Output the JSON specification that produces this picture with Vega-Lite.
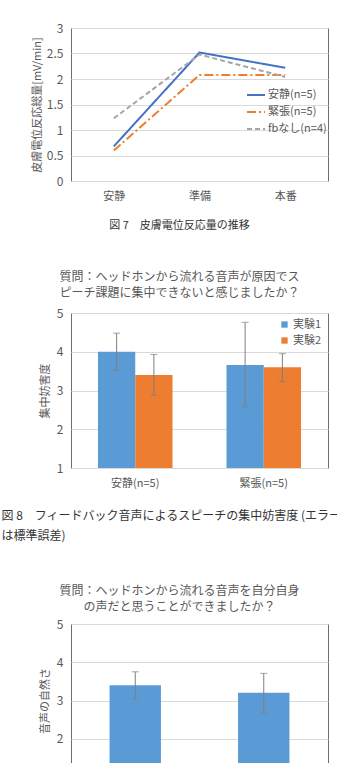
{
  "$schema": "https://vega.github.io/schema/vega-lite/v6.json",
  "padding": {"top": 21, "left": 0, "right": 0, "bottom": 0},
  "config": {
    "font": "Noto Sans CJK JP",
    "view": {"stroke": "#6e6e6e", "strokeWidth": 1},
    "axis": {
      "labelColor": "#595959",
      "titleColor": "#595959",
      "gridColor": "#d9d9d9",
      "domain": false,
      "ticks": false,
      "labelPadding": 8,
      "labelFontSize": 12,
      "titleFontSize": 11,
      "titleFontWeight": "normal",
      "titlePadding": 5
    },
    "legend": {"labelColor": "#595959", "labelFontSize": 11},
    "title": {"fontWeight": "normal", "fontSize": 12, "color": "#595959", "lineHeight": 16}
  },
  "resolve": {
    "scale": {"color": "independent", "strokeDash": "independent", "x": "independent", "y": "independent", "xOffset": "independent"},
    "legend": {"color": "independent", "strokeDash": "independent"}
  },
  "spacing": 42,
  "vconcat": [
    {
      "spacing": 39,
      "resolve": {
        "scale": {"color": "independent", "strokeDash": "independent", "x": "independent", "y": "independent", "xOffset": "independent"},
        "legend": {"color": "independent", "strokeDash": "independent"}
      },
      "vconcat": [
        {
          "width": 257,
          "height": 153,
          "data": {"values": [
            {"phase": "安静", "cond": "安静(n=5)", "v": 0.68},
            {"phase": "準備", "cond": "安静(n=5)", "v": 2.52},
            {"phase": "本番", "cond": "安静(n=5)", "v": 2.22},
            {"phase": "安静", "cond": "緊張(n=5)", "v": 0.60},
            {"phase": "準備", "cond": "緊張(n=5)", "v": 2.08},
            {"phase": "本番", "cond": "緊張(n=5)", "v": 2.08},
            {"phase": "安静", "cond": "fbなし(n=4)", "v": 1.23},
            {"phase": "準備", "cond": "fbなし(n=4)", "v": 2.48},
            {"phase": "本番", "cond": "fbなし(n=4)", "v": 2.04}
          ]},
          "mark": {"type": "line", "strokeWidth": 2},
          "encoding": {
            "x": {
              "field": "phase", "type": "ordinal", "sort": ["安静", "準備", "本番"],
              "scale": {"type": "point", "padding": 0.5},
              "axis": {
                "labelAngle": 0, "grid": false, "labelFontSize": 11, "labelPadding": 9,
                "title": "図 7　皮膚電位反応量の推移",
                "titleFontSize": 11, "titleColor": "#333333",
                "titleX": 108, "titleY": 38, "titleAlign": "center", "titleBaseline": "top", "titleAnchor": null
              }
            },
            "y": {
              "field": "v", "type": "quantitative",
              "scale": {"domain": [0, 3]},
              "axis": {"values": [0, 0.5, 1, 1.5, 2, 2.5, 3], "labelExpr": "datum.value + ''", "title": "皮膚電位反応総量[mV/min]", "titlePadding": 4}
            },
            "color": {
              "field": "cond", "type": "nominal",
              "scale": {"domain": ["安静(n=5)", "緊張(n=5)", "fbなし(n=4)"], "range": ["#4472C4", "#ED7D31", "#A5A5A5"]},
              "legend": {"title": null, "orient": "none", "legendX": 175, "legendY": 57, "symbolType": "stroke", "symbolSize": 324, "symbolStrokeWidth": 2, "labelOffset": 2, "rowPadding": 2}
            },
            "strokeDash": {
              "field": "cond", "type": "nominal",
              "scale": {"domain": ["安静(n=5)", "緊張(n=5)", "fbなし(n=4)"], "range": [[1, 0], [9, 3, 2, 3], [5, 3]]},
              "legend": {"title": null, "orient": "none", "legendX": 175, "legendY": 57, "symbolType": "stroke", "symbolSize": 324, "symbolStrokeWidth": 2, "labelOffset": 2, "rowPadding": 2}
            },
            "order": {"value": null}
          }
        },
        {
          "width": 257,
          "height": 155,
          "title": {"text": ["質問：ヘッドホンから流れる音声が原因でス", "ピーチ課題に集中できないと感じましたか？"], "dx": -20, "offset": 7},
          "data": {"values": [
            {"group": "安静(n=5)", "exp": "実験1", "v": 4.0, "lo": 3.53, "hi": 4.48},
            {"group": "安静(n=5)", "exp": "実験2", "v": 3.4, "lo": 2.88, "hi": 3.93},
            {"group": "緊張(n=5)", "exp": "実験1", "v": 3.66, "lo": 2.58, "hi": 4.76},
            {"group": "緊張(n=5)", "exp": "実験2", "v": 3.6, "lo": 3.23, "hi": 3.95}
          ]},
          "encoding": {
            "x": {
              "field": "group", "type": "nominal",
              "scale": {"paddingInner": 0.42, "paddingOuter": 0.21},
              "axis": {
                "labelAngle": 0, "grid": false, "labelFontSize": 11, "labelPadding": 9,
                "title": ["図 8　フィードバック音声によるスピーチの集中妨害度 (エラーバー", "　　　は標準誤差)"],
                "titleFontSize": 12, "titleColor": "#333333", "titleLineHeight": 20,
                "titleX": -70, "titleY": 42, "titleAlign": "left", "titleBaseline": "top", "titleAnchor": null
              }
            },
            "xOffset": {"field": "exp", "type": "nominal", "scale": {"paddingInner": 0, "paddingOuter": 0}}
          },
          "layer": [
            {
              "mark": {"type": "bar"},
              "encoding": {
                "y": {
                  "field": "v", "type": "quantitative",
                  "scale": {"domain": [1, 5]},
                  "axis": {"values": [1, 2, 3, 4, 5], "labelOverlap": false, "title": "集中妨害度", "titlePadding": 6}
                },
                "y2": {"datum": 1},
                "color": {
                  "field": "exp", "type": "nominal",
                  "scale": {"domain": ["実験1", "実験2"], "range": ["#5B9BD5", "#ED7D31"]},
                  "legend": {"title": null, "orient": "none", "legendX": 208, "legendY": 6, "symbolType": "square", "symbolSize": 40, "rowPadding": 4, "labelOffset": 3}
                }
              }
            },
            {
              "mark": {"type": "rule", "color": "#7f7f7f", "strokeWidth": 1},
              "encoding": {
                "y": {"field": "lo", "type": "quantitative", "axis": {"values": [1, 2, 3, 4, 5], "labelOverlap": false, "title": "集中妨害度", "titlePadding": 6}},
                "y2": {"field": "hi"}
              }
            },
            {
              "mark": {"type": "tick", "color": "#7f7f7f", "size": 7, "thickness": 1},
              "encoding": {"y": {"field": "lo", "type": "quantitative", "axis": {"values": [1, 2, 3, 4, 5], "labelOverlap": false, "title": "集中妨害度", "titlePadding": 6}}}
            },
            {
              "mark": {"type": "tick", "color": "#7f7f7f", "size": 7, "thickness": 1},
              "encoding": {"y": {"field": "hi", "type": "quantitative", "axis": {"values": [1, 2, 3, 4, 5], "labelOverlap": false, "title": "集中妨害度", "titlePadding": 6}}}
            }
          ]
        }
      ]
    },
    {
      "width": 257,
      "height": 153,
      "title": {"text": ["質問：ヘッドホンから流れる音声を自分自身", "の声だと思うことができましたか？"], "dx": -20, "offset": 4},
      "data": {"values": [
        {"group": "安静(n=5)", "v": 3.4, "lo": 3.04, "hi": 3.75},
        {"group": "緊張(n=5)", "v": 3.2, "lo": 2.66, "hi": 3.71}
      ]},
      "encoding": {
        "x": {
          "field": "group", "type": "nominal",
          "scale": {"paddingInner": 0.6, "paddingOuter": 0.3},
          "axis": {"labelAngle": 0, "grid": false, "labelFontSize": 11, "labelPadding": 9, "title": null}
        }
      },
      "layer": [
        {
          "mark": {"type": "bar", "color": "#5B9BD5"},
          "encoding": {
            "y": {
              "field": "v", "type": "quantitative",
              "scale": {"domain": [1, 5]},
              "axis": {"values": [1, 2, 3, 4, 5], "labelOverlap": false, "title": "音声の自然さ", "titlePadding": 6}
            },
            "y2": {"datum": 1}
          }
        },
        {
          "mark": {"type": "rule", "color": "#7f7f7f", "strokeWidth": 1},
          "encoding": {
            "y": {"field": "lo", "type": "quantitative", "axis": {"values": [1, 2, 3, 4, 5], "labelOverlap": false, "title": "音声の自然さ", "titlePadding": 6}},
            "y2": {"field": "hi"}
          }
        },
        {
          "mark": {"type": "tick", "color": "#7f7f7f", "size": 7, "thickness": 1},
          "encoding": {"y": {"field": "lo", "type": "quantitative", "axis": {"values": [1, 2, 3, 4, 5], "labelOverlap": false, "title": "音声の自然さ", "titlePadding": 6}}}
        },
        {
          "mark": {"type": "tick", "color": "#7f7f7f", "size": 7, "thickness": 1},
          "encoding": {"y": {"field": "hi", "type": "quantitative", "axis": {"values": [1, 2, 3, 4, 5], "labelOverlap": false, "title": "音声の自然さ", "titlePadding": 6}}}
        }
      ]
    }
  ]
}
